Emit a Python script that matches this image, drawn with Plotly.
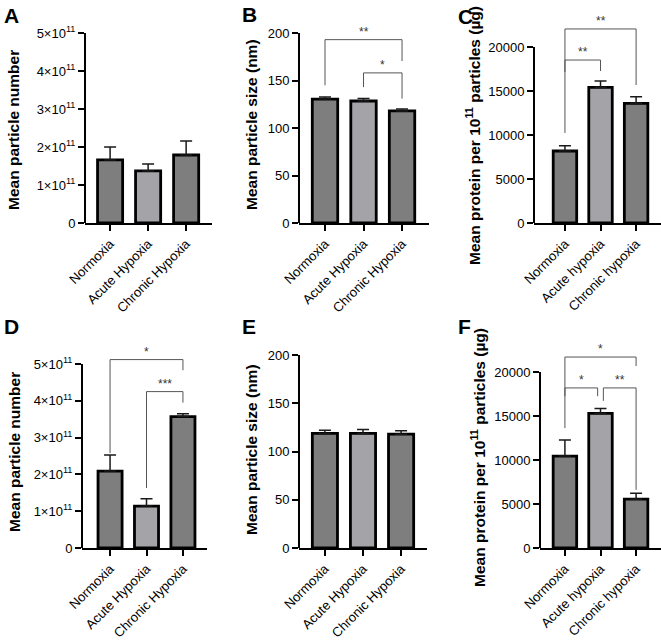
import plotly.graph_objects as go
from plotly.subplots import make_subplots

W, H = 661, 641

# ---- data ----
groups_size = ["Normoxia", "Acute Hypoxia", "Chronic Hypoxia"]
groups_prot = ["Normoxia", "Acute hypoxia", "Chronic hypoxia"]

A_number = [1.66e11, 1.37e11, 1.79e11]
A_sd = [0.34e11, 0.18e11, 0.37e11]
B_size = [130.5, 128.4, 118.0]
B_sd = [2.1, 2.6, 2.0]
C_protein = [8180, 15420, 13600]
C_sd = [600, 720, 750]
D_number = [2.09e11, 1.14e11, 3.57e11]
D_sd = [0.44e11, 0.20e11, 0.08e11]
E_size = [118.7, 118.7, 118.0]
E_sd = [3.3, 4.0, 3.4]
F_protein = [10450, 15290, 5550]
F_sd = [1810, 560, 680]

number_ticks = [0, 1e11, 2e11, 3e11, 4e11, 5e11]
number_labels = ["0"] + ["%d×10<sup>11</sup>" % i for i in range(1, 6)]
size_ticks = [0, 50, 100, 150, 200]
prot_ticks = [0, 5000, 10000, 15000, 20000]

# significance brackets: (x left, x right, bar y, left leg bottom, right leg bottom, label)
B_sig = [(0, 2, 193, 145, 170.5, "**"), (1, 2, 158, 143, 131, "*")]
C_sig = [(0, 2, 22050, 10230, 15680, "**"), (0, 1, 18520, 17160, 17270, "**")]
D_sig = [(0, 2, 5.12e11, 2.58e11, 4.83e11, "*"), (1, 2, 4.25e11, 1.63e11, 3.95e11, "***")]
F_sig = [(0, 2, 21700, 13620, 20680, "*"), (0, 0.92, 18190, 17250, 17250, "*"),
         (1.08, 2, 18190, 16720, 6600, "**")]

dark = "#7e7e7e"
light = "#a3a3a8"
colors = [dark, light, dark]

# ---- layout per panel (pixel geometry) ----
panels = [
    dict(letter="A", cats=groups_size, y=A_number, sd=A_sd, ticks=number_ticks, labels=number_labels,
         sig=[], xl=85, xr=212, p0=223, p1=33, top=5e11, rmax=5e11, xr_=[-0.66, 2.68],
         title="Mean particle number", tx=14, ty=130, lx=2, ly=2),
    dict(letter="B", cats=groups_size, y=B_size, sd=B_sd, ticks=size_ticks, labels=None,
         sig=B_sig, xl=299, xr=429, p0=223, p1=33, top=200, rmax=212, xr_=[-0.675, 2.70],
         title="Mean particle size (nm)", tx=251, ty=125, lx=240, ly=1),
    dict(letter="C", cats=groups_prot, y=C_protein, sd=C_sd, ticks=prot_ticks, labels=None,
         sig=C_sig, xl=534, xr=661, p0=223, p1=47, top=20000, rmax=23000, xr_=[-0.87, 2.70],
         title="Mean protein per 10<sup>11</sup> particles (µg)", tx=473, ty=136, lx=456, ly=3),
    dict(letter="D", cats=groups_size, y=D_number, sd=D_sd, ticks=number_ticks, labels=number_labels,
         sig=D_sig, xl=82, xr=207, p0=548, p1=364, top=5e11, rmax=5.3e11, xr_=[-0.77, 2.66],
         title="Mean particle number", tx=14, ty=452, lx=2, ly=313),
    dict(letter="E", cats=groups_size, y=E_size, sd=E_sd, ticks=size_ticks, labels=None,
         sig=[], xl=299, xr=427, p0=548, p1=355, top=200, rmax=200, xr_=[-0.68, 2.68],
         title="Mean particle size (nm)", tx=252, ty=450, lx=240, ly=313),
    dict(letter="F", cats=groups_prot, y=F_protein, sd=F_sd, ticks=prot_ticks, labels=None,
         sig=F_sig, xl=540, xr=661, p0=548, p1=372, top=20000, rmax=22500, xr_=[-0.70, 2.70],
         title="Mean protein per 10<sup>11</sup> particles (µg)", tx=478, ty=458, lx=456, ly=313),
]

FONT = "Arial, Liberation Sans, Helvetica, sans-serif"

fig = make_subplots(rows=2, cols=3)
shapes = []
annotations = []

for i, p in enumerate(panels):
    row, col = i // 3 + 1, i % 3 + 1
    n = "" if i == 0 else str(i + 1)
    xname, yname = "x" + n, "y" + n

    fig.add_trace(go.Bar(
        x=p["cats"], y=p["y"], width=0.66,
        marker=dict(color=colors, line=dict(color="black", width=2.8)),
        error_y=dict(type="data", array=p["sd"], arrayminus=[0, 0, 0], symmetric=False,
                     color="#1a1a1a", thickness=1.5, width=6),
        showlegend=False,
    ), row=row, col=col)

    ytop_px = p["p0"] - (p["p0"] - p["p1"]) * p["rmax"] / p["top"]
    fig.update_xaxes(
        domain=[p["xl"] / W, p["xr"] / W], range=p["xr_"], automargin=False,
        showline=True, linecolor="black", linewidth=2, showgrid=False, zeroline=False,
        ticks="outside", ticklen=6, tickwidth=1.5, tickcolor="black", tickangle=-45,
        tickfont=dict(family=FONT, size=13.2, color="black"),
        row=row, col=col)
    fig.update_yaxes(
        domain=[1 - p["p0"] / H, 1 - ytop_px / H], range=[0, p["rmax"]], automargin=False,
        showline=False, showgrid=False, zeroline=False,
        tickvals=p["ticks"], ticktext=p["labels"] if p["labels"] else [str(t) for t in p["ticks"]],
        ticks="outside", ticklen=6, tickwidth=1.5, tickcolor="black",
        tickfont=dict(family=FONT, size=13, color="black"),
        row=row, col=col)

    # y axis line only up to the top tick
    shapes.append(dict(type="line", xref=xname + " domain", yref=yname, x0=0, x1=0,
                       y0=0, y1=p["top"], line=dict(color="black", width=2)))

    for (xa, xb, yb, ya_low, yb_low, lab) in p["sig"]:
        shapes.append(dict(type="path", xref=xname, yref=yname,
                           path="M %g,%g L %g,%g L %g,%g L %g,%g" % (xa, ya_low, xa, yb, xb, yb, xb, yb_low),
                           line=dict(color="#555555", width=1)))
        annotations.append(dict(xref=xname, yref=yname, x=(xa + xb) / 2, y=yb, text=lab,
                                showarrow=False, yanchor="bottom", yshift=-1,
                                font=dict(family=FONT, size=12, color="#333333")))

    annotations.append(dict(xref="paper", yref="paper", x=p["tx"] / W, y=1 - p["ty"] / H,
                            text="<b>" + p["title"] + "</b>", textangle=-90, showarrow=False,
                            xanchor="center", yanchor="middle",
                            font=dict(family=FONT, size=15.5, color="black")))
    annotations.append(dict(xref="paper", yref="paper", x=p["lx"] / W, y=1 - p["ly"] / H,
                            text="<b>" + p["letter"] + "</b>", showarrow=False,
                            xanchor="left", yanchor="top",
                            font=dict(family=FONT, size=21, color="black")))

fig.update_layout(
    width=W, height=H, margin=dict(l=0, r=0, t=0, b=0),
    paper_bgcolor="white", plot_bgcolor="white",
    shapes=shapes, annotations=annotations, bargap=0.34,
)

# the page body has a default margin; drop it so the figure sits at the window corner
fig.write_html("out.html", config={"displayModeBar": False},
               post_script="document.body.style.margin='0';")
